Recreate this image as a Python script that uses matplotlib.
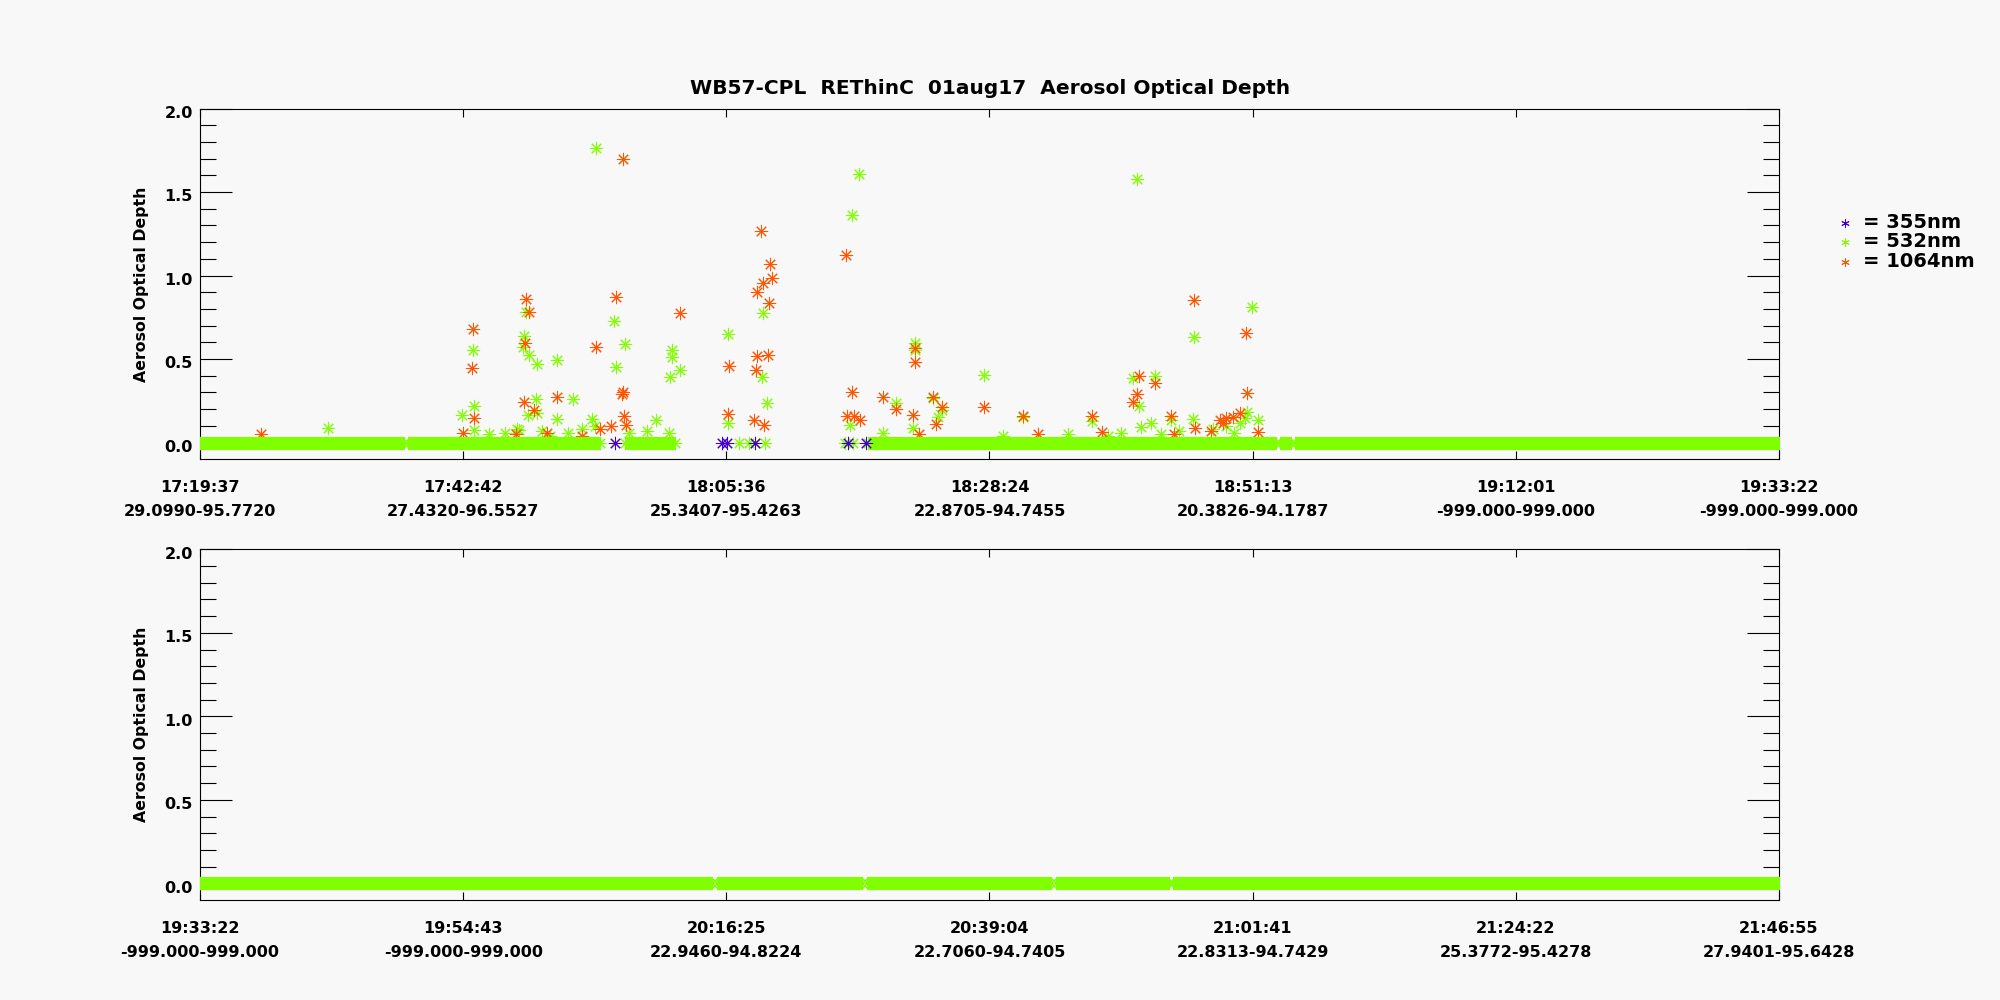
import numpy as np
import matplotlib
matplotlib.use("Agg")
import matplotlib.pyplot as plt
from matplotlib.lines import Line2D
from matplotlib.transforms import ScaledTranslation

plt.rcParams["font.family"] = ["DejaVu Sans"]
plt.rcParams["font.weight"] = "bold"

# x axis is record position, in units of the tick spacing (0..6)
top_times = ["17:19:37", "17:42:42", "18:05:36", "18:28:24", "18:51:13", "19:12:01", "19:33:22"]
top_locs = ["29.0990-95.7720", "27.4320-96.5527", "25.3407-95.4263", "22.8705-94.7455",
            "20.3826-94.1787", "-999.000-999.000", "-999.000-999.000"]
bot_times = ["19:33:22", "19:54:43", "20:16:25", "20:39:04", "21:01:41", "21:24:22", "21:46:55"]
bot_locs = ["-999.000-999.000", "-999.000-999.000", "22.9460-94.8224", "22.7060-94.7405",
            "22.8313-94.7429", "25.3772-95.4278", "27.9401-95.6428"]

# dense near-zero 532nm records, drawn as a band (start, end)
top_band = [(0.0, 0.775), (0.79, 1.52), (1.615, 1.805), (2.539, 4.09), (4.105, 4.145), (4.16, 6.0)]
bot_band = [(0.0, 1.945), (1.963, 2.517), (2.535, 3.233), (3.251, 3.681), (3.699, 6.0)]

# 532nm
g_x = [0.487, 0.997, 1.040, 1.038, 1.043, 1.211, 1.239, 1.231, 1.226, 1.251, 1.282, 1.358,
       1.277, 1.246, 1.279, 1.419, 1.355, 1.488, 1.206, 1.505, 1.574, 1.616, 1.580, 1.733,
       1.783, 1.793, 1.793, 1.824, 1.786, 2.007, 2.005, 2.138, 2.134, 2.155, 2.476, 2.505,
       2.717, 2.717, 2.979, 2.644, 2.786, 2.821, 2.805, 2.711, 2.470, 2.594, 3.126,
       3.561, 3.778, 3.996, 3.546, 3.629, 3.569, 3.388, 3.688, 3.772, 3.614, 3.576, 3.977,
       4.021, 3.971,
       1.10, 1.16, 1.30, 1.33, 1.40, 1.45, 1.50, 1.63, 1.70, 3.05, 3.30, 3.45, 3.50, 3.65,
       3.72, 3.85, 3.90, 3.95, 3.93,
       2.050, 2.085, 2.110, 2.147, 2.452, 2.480]
g_y = [0.090, 0.166, 0.220, 0.554, 0.076, 0.076, 0.784, 0.640, 0.574, 0.525, 0.469, 0.495,
       0.262, 0.166, 0.177, 0.259, 0.139, 0.139, 0.080, 1.762, 0.728, 0.590, 0.451, 0.138,
       0.060, 0.554, 0.514, 0.435, 0.395, 0.650, 0.120, 0.776, 0.395, 0.240, 1.361, 1.606,
       0.594, 0.554, 0.403, 0.239, 0.265, 0.195, 0.155, 0.089, 0.105, 0.055, 0.155,
       1.577, 0.634, 0.810, 0.385, 0.399, 0.219, 0.129, 0.135, 0.139, 0.115, 0.095, 0.185,
       0.135, 0.145,
       0.05, 0.06, 0.07, 0.04, 0.06, 0.08, 0.10, 0.06, 0.07, 0.04, 0.05, 0.04, 0.06, 0.05,
       0.07, 0.08, 0.10, 0.12, 0.06,
       0.0, 0.0, 0.0, 0.0, 0.0, 0.0]

# 1064nm
o_x = [0.233, 1.038, 1.035, 1.041, 1.239, 1.251, 1.235, 1.231, 1.270, 1.358, 1.608, 1.580,
       1.505, 1.824, 1.602, 1.606, 1.612, 1.620, 2.011, 2.005, 2.131, 2.166, 2.172, 2.138,
       2.115, 2.163, 2.115, 2.160, 2.113, 2.107, 2.142, 2.454, 2.476, 2.596, 2.457, 2.486,
       2.507, 2.644, 2.711, 2.717, 2.717, 2.786, 2.821, 2.795, 2.979, 3.126, 3.185, 2.733,
       3.778, 3.974, 3.977, 3.569, 3.629, 3.561, 3.546, 3.388, 3.688, 3.426, 3.781, 3.875,
       3.900, 3.926, 3.951, 4.021, 3.886,
       1.00, 1.20, 1.32, 1.45, 1.52, 1.56, 3.70, 3.84]
o_y = [0.050, 0.678, 0.445, 0.145, 0.858, 0.784, 0.598, 0.245, 0.197, 0.275, 1.696, 0.870,
       0.571, 0.774, 0.289, 0.300, 0.159, 0.106, 0.459, 0.171, 1.267, 1.068, 0.984, 0.958,
       0.900, 0.838, 0.519, 0.525, 0.435, 0.135, 0.105, 1.121, 0.301, 0.271, 0.159, 0.159,
       0.135, 0.199, 0.165, 0.484, 0.564, 0.275, 0.211, 0.111, 0.211, 0.159, 0.050, 0.050,
       0.852, 0.654, 0.295, 0.399, 0.359, 0.289, 0.241, 0.159, 0.159, 0.065, 0.085, 0.135,
       0.145, 0.155, 0.175, 0.065, 0.115,
       0.06, 0.05, 0.06, 0.04, 0.08, 0.10, 0.05, 0.07]

# 355nm
b_x = [1.578, 1.982, 2.003, 2.110, 2.463, 2.531]
b_y = [0.0, 0.0, 0.0, 0.0, 0.0, 0.0]

BLUE = "#4400c8"
GREEN = "#80ff00"
ORANGE = "#ff5500"
BG = "#f8f8f8"

AST = (8, 2, 0)
MS = 9.5
MEW = 0.75


def draw_band(ax, band):
    for x0, x1 in band:
        ax.plot([x0, x1], [0, 0], color=GREEN, lw=MS, solid_capstyle="butt", zorder=3)
        ax.plot([x0, x1], [0, 0], ls="none", marker=AST, ms=MS, mew=MEW, color=GREEN, zorder=3)


def style_axes(ax, times, locs):
    ax.set_xlim(0, 6)
    ax.set_ylim(-0.1, 2.0)
    ax.set_facecolor(BG)
    for s in ax.spines.values():
        s.set_linewidth(0.8)
    ax.set_xticks(range(7))
    ax.set_xticklabels([f"{t}\n{l}" for t, l in zip(times, locs)], linespacing=1.72,
                       fontsize=11.5, fontweight="bold")
    ax.set_yticks([0.0, 0.5, 1.0, 1.5, 2.0])
    ax.set_yticks(np.arange(0, 2.01, 0.1), minor=True)
    ax.set_yticklabels(["0.0", "0.5", "1.0", "1.5", "2.0"], fontsize=11.5, fontweight="bold")
    ax.tick_params(axis="x", which="major", direction="in", top=True, length=5.8, width=0.8, pad=15)
    ax.tick_params(axis="y", which="major", direction="in", right=True, length=23, width=0.8, pad=5)
    ax.tick_params(axis="y", which="minor", direction="in", right=True, length=11.5, width=0.8)
    off = ScaledTranslation(0, -3.3 / 100, ax.figure.dpi_scale_trans)
    for lab in ax.get_yticklabels():
        lab.set_transform(lab.get_transform() + off)
    ax.set_ylabel("Aerosol Optical Depth", fontsize=11.3, fontweight="bold", labelpad=11)


fig = plt.figure(figsize=(20, 10), dpi=100, facecolor=BG)
ax1 = fig.add_axes([0.100, 0.5407, 0.7895, 0.3508])
ax2 = fig.add_axes([0.100, 0.0999, 0.7895, 0.3508])

ax1.plot(g_x, g_y, ls="none", marker=AST, ms=MS, mew=MEW, color=GREEN, zorder=2)
ax1.plot(o_x, o_y, ls="none", marker=AST, ms=MS, mew=MEW, color=ORANGE, zorder=2)
draw_band(ax1, top_band)
ax1.plot(b_x, b_y, ls="none", marker=AST, ms=MS, mew=MEW, color=BLUE, zorder=4)
style_axes(ax1, top_times, top_locs)

draw_band(ax2, bot_band)
style_axes(ax2, bot_times, bot_locs)

fig.text(0.4948, 0.9117, "WB57-CPL  REThinC  01aug17  Aerosol Optical Depth",
         ha="center", va="center", fontsize=14.5, fontweight="bold")

leg_labels = ["= 355nm", "= 532nm", "= 1064nm"]
leg_colors = [BLUE, GREEN, ORANGE]
leg_y = [0.7773, 0.7583, 0.7383]
for lab, col, yy in zip(leg_labels, leg_colors, leg_y):
    fig.add_artist(Line2D([0.9225], [yy], transform=fig.transFigure, ls="none",
                          marker=(6, 2, 0), ms=6, mew=0.7, color=col))
    fig.text(0.9314, yy, lab, ha="left", va="center", fontsize=14, fontweight="bold")

fig.savefig("out.png", dpi=100, facecolor=BG)
